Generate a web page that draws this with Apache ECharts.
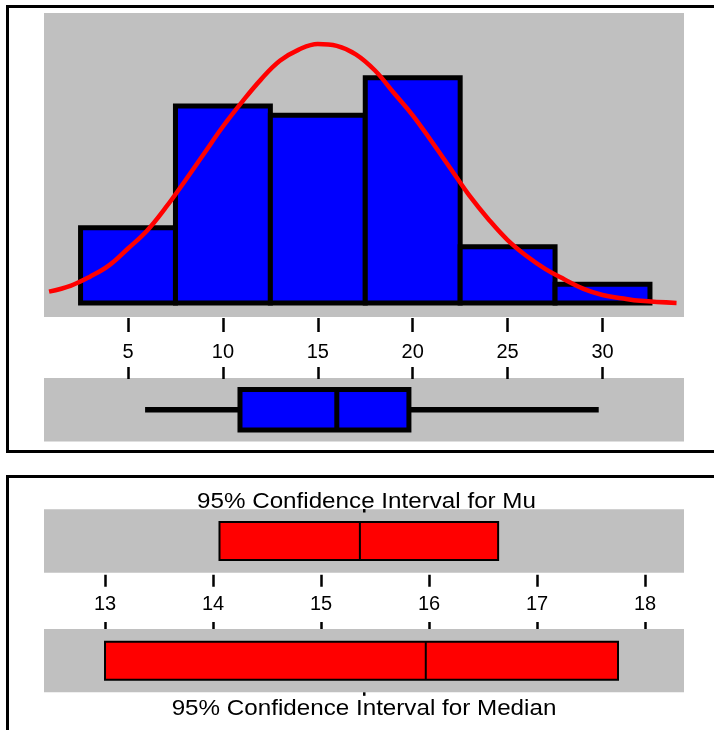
<!DOCTYPE html>
<html><head><meta charset="utf-8">
<script src="https://cdn.jsdelivr.net/npm/echarts@6/dist/echarts.min.js"></script>
<style>html,body{margin:0;padding:0;background:#fff}#c{width:714px;height:730px}</style>
</head><body><div id="c"></div>
<script>
// ---- data ----
const binStarts = [2.5, 7.5, 12.5, 17.5, 22.5, 27.5];
const binEnds   = [7.5, 12.5, 17.5, 22.5, 27.5, 32.5];
const binCounts = [8, 21, 20, 24, 6, 2];
const curveX = [0.84, 2, 3, 4, 5, 6, 7, 8, 9, 10, 11, 12, 13, 14, 15, 16, 17, 18, 19, 20, 21, 22, 23, 24, 25, 26, 27, 28, 29, 30, 31, 32, 33.9];
const curveY = [1.2, 1.85, 2.8, 4.0, 5.8, 7.7, 10.2, 13.0, 15.9, 18.8, 21.4, 23.8, 25.8, 27.0, 27.6, 27.4, 26.5, 24.8, 22.4, 20.0, 17.2, 14.3, 11.4, 8.9, 6.7, 5.0, 3.6, 2.5, 1.5, 0.85, 0.5, 0.22, 0.0];
const histTicks = [5, 10, 15, 20, 25, 30];
const boxStats = [5.9, 10.9, 16.0, 19.8, 29.8]; // min, Q1, median, Q3, max
const ciTicks = [13, 14, 15, 16, 17, 18];
const ciMu = [14.06, 15.36, 16.64];      // low, centre, high
const ciMedian = [13.0, 15.97, 17.75];   // low, centre, high
const titleMu = '95% Confidence Interval for Mu';
const titleMedian = '95% Confidence Interval for Median';

// ---- styling ----
const FONT = '"Liberation Sans", Arial, sans-serif';
const GRAY = '#c0c0c0';
const chart = echarts.init(document.getElementById('c'), null, {renderer: 'canvas'});

function hidden(gi, min, max) {
  return {type: 'value', gridIndex: gi, min: min, max: max, show: false};
}
function tickAxis(gi, min, max, pos, vals, tickLen, showLabel, labelMargin, fontSize, offset) {
  return {
    type: 'value', gridIndex: gi, min: min, max: max, position: pos, offset: offset || 0,
    axisLine: {show: false, onZero: false}, splitLine: {show: false},
    axisTick: {show: true, customValues: vals, length: tickLen, inside: false, lineStyle: {color: '#000', width: 2.5}},
    axisLabel: {show: showLabel, customValues: vals, margin: labelMargin, fontSize: fontSize, color: '#000', fontFamily: FONT}
  };
}

const hMin = 0.574, hMax = 34.293;
const cMin = 12.435, cMax = 18.361;

function ciRender(params, api) {
  const lo = api.coord([api.value(0), 0.2]);
  const hi = api.coord([api.value(2), 0.8]);
  const mA = api.coord([api.value(1), 0.2]);
  const mB = api.coord([api.value(1), 0.8]);
  return {type: 'group', children: [
    {type: 'rect', shape: {x: lo[0], y: hi[1], width: hi[0] - lo[0], height: lo[1] - hi[1]},
     style: {fill: '#ff0000', stroke: '#000', lineWidth: 2}},
    {type: 'line', shape: {x1: mA[0], y1: mA[1], x2: mB[0], y2: mB[1]}, style: {stroke: '#000', lineWidth: 2}}
  ]};
}

const option = {
  animation: false,
  grid: [
    {left: 44, top: 13, width: 640, height: 304, show: true, backgroundColor: GRAY, borderWidth: 0},
    {left: 44, top: 378, width: 640, height: 63.5, show: true, backgroundColor: GRAY, borderWidth: 0},
    {left: 44, top: 509.3, width: 640, height: 63.4, show: true, backgroundColor: GRAY, borderWidth: 0},
    {left: 44, top: 629, width: 640, height: 63.3, show: true, backgroundColor: GRAY, borderWidth: 0}
  ],
  xAxis: [
    tickAxis(0, hMin, hMax, 'bottom', histTicks, 14, true, 24, 20, 1),
    tickAxis(1, hMin, hMax, 'top', histTicks, 12, false, 0, 20, -1),
    tickAxis(2, cMin, cMax, 'bottom', ciTicks, 12, true, 20, 20, 2),
    tickAxis(3, cMin, cMax, 'top', ciTicks, 7, false, 0, 20, 0)
  ],
  yAxis: [hidden(0, -1.5, 30.9), hidden(1, 0, 1), hidden(2, 0, 1), hidden(3, 0, 1)],
  series: [
    {
      type: 'custom', xAxisIndex: 0, yAxisIndex: 0, z: 2,
      data: binStarts.map((s, i) => [s, binEnds[i], binCounts[i]]),
      encode: {x: [0, 1], y: 2},
      renderItem: function (params, api) {
        const p1 = api.coord([api.value(0), api.value(2)]);
        const p2 = api.coord([api.value(1), 0]);
        return {type: 'rect', shape: {x: p1[0], y: p1[1], width: p2[0] - p1[0], height: p2[1] - p1[1]},
          style: {fill: '#0000ff', stroke: '#000', lineWidth: 5}};
      }
    },
    {
      type: 'line', xAxisIndex: 0, yAxisIndex: 0, z: 5,
      data: curveX.map((x, i) => [x, curveY[i]]),
      showSymbol: false, smooth: 0.4,
      lineStyle: {color: '#ff0000', width: 4.5}
    },
    {
      type: 'custom', xAxisIndex: 1, yAxisIndex: 1,
      data: [boxStats], encode: {x: [0, 1, 2, 3, 4]},
      renderItem: function (params, api) {
        const yc = 0.5, h = 0.32;
        const wl = api.coord([api.value(0), yc]);
        const q1 = api.coord([api.value(1), yc]);
        const q3 = api.coord([api.value(3), yc]);
        const wh = api.coord([api.value(4), yc]);
        const top = api.coord([api.value(1), yc + h]);
        const bot = api.coord([api.value(1), yc - h]);
        const md = api.coord([api.value(2), yc]);
        return {type: 'group', children: [
          {type: 'line', shape: {x1: wl[0], y1: wl[1], x2: q1[0], y2: q1[1]}, style: {stroke: '#000', lineWidth: 5.5}},
          {type: 'line', shape: {x1: q3[0], y1: q3[1], x2: wh[0], y2: wh[1]}, style: {stroke: '#000', lineWidth: 5.5}},
          {type: 'rect', shape: {x: q1[0], y: top[1], width: q3[0] - q1[0], height: bot[1] - top[1]},
           style: {fill: '#0000ff', stroke: '#000', lineWidth: 5}},
          {type: 'line', shape: {x1: md[0], y1: top[1], x2: md[0], y2: bot[1]}, style: {stroke: '#000', lineWidth: 5}}
        ]};
      }
    },
    {type: 'custom', xAxisIndex: 2, yAxisIndex: 2, data: [ciMu], encode: {x: [0, 1, 2]}, renderItem: ciRender},
    {type: 'custom', xAxisIndex: 3, yAxisIndex: 3, data: [ciMedian], encode: {x: [0, 1, 2]}, renderItem: ciRender}
  ],
  graphic: [
    {type: 'rect', shape: {x: 7.5, y: 6.5, width: 720, height: 445}, style: {fill: 'none', stroke: '#000', lineWidth: 3}},
    {type: 'rect', shape: {x: 7.5, y: 476.5, width: 720, height: 300}, style: {fill: 'none', stroke: '#000', lineWidth: 3}},
    {type: 'text', x: 366.5, y: 501.5, scaleX: 1.1,
     style: {text: titleMu, font: '22px ' + FONT, fill: '#000', textAlign: 'center', textVerticalAlign: 'middle', align: 'center', verticalAlign: 'middle'}},
    {type: 'text', x: 364, y: 708.5, scaleX: 1.1,
     style: {text: titleMedian, font: '22px ' + FONT, fill: '#000', textAlign: 'center', textVerticalAlign: 'middle', align: 'center', verticalAlign: 'middle'}},
    {type: 'rect', shape: {x: 363, y: 509, width: 2.5, height: 3.5}, style: {fill: '#000'}, z: 100},
    {type: 'rect', shape: {x: 363, y: 692.3, width: 2.5, height: 3.5}, style: {fill: '#000'}, z: 100}
  ]
};
chart.setOption(option);
</script>
</body></html>
